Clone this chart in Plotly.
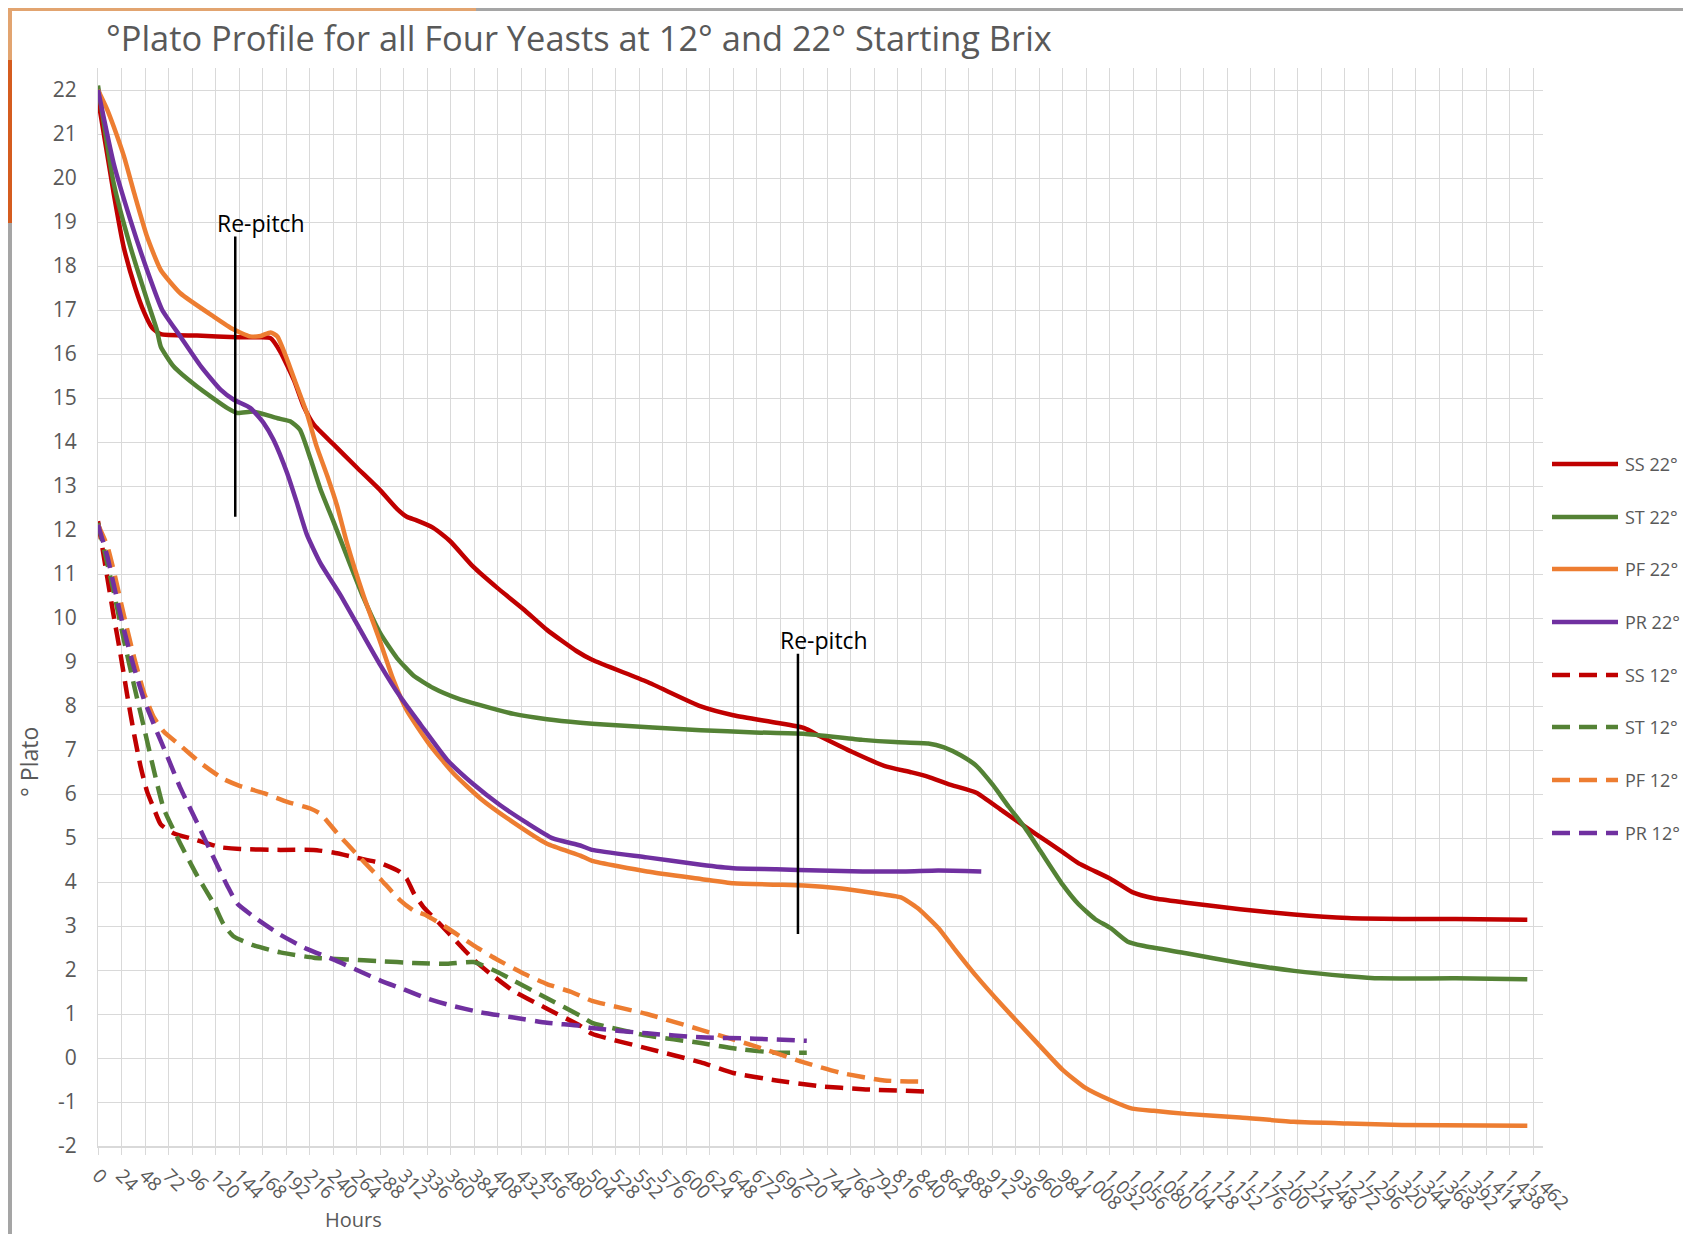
import plotly.graph_objects as go

# x tick labels (hours), evenly spaced category-style ticks
tick_hours = list(range(0, 1393, 24)) + [1414, 1438, 1462]
tick_text = [f"{h:,}" for h in tick_hours]
y_ticks = list(range(-2, 23))

# 22 degree starting gravity
ss22_h = [0, 16, 26, 38, 47, 55, 64, 101, 142, 165, 176, 186, 200, 210, 220, 240, 264, 288, 305, 315,
          325, 342, 359, 383, 407, 434, 458, 488, 504, 560, 615, 648, 692, 720, 736, 769, 802, 830, 847,
          868, 896, 923, 956, 984, 1000, 1033, 1055, 1077, 1110, 1165, 1220, 1275, 1330, 1385, 1458]
ss22_v = [21.8, 19.65, 18.45, 17.5, 16.95, 16.6, 16.45, 16.42, 16.38, 16.38, 16.36, 16.05, 15.4, 14.8,
          14.4, 13.95, 13.42, 12.9, 12.48, 12.3, 12.22, 12.05, 11.75, 11.16, 10.69, 10.2, 9.73, 9.25,
          9.05, 8.55, 7.99, 7.79, 7.62, 7.5, 7.32, 6.96, 6.64, 6.49, 6.39, 6.22, 6.03, 5.61, 5.1, 4.68,
          4.43, 4.07, 3.77, 3.63, 3.53, 3.38, 3.26, 3.18, 3.16, 3.16, 3.14]

st22_h = [0, 16, 33, 50, 60, 64, 77, 101, 132, 142, 159, 183, 196, 206, 217, 227, 240, 254, 271, 288,
          305, 322, 342, 366, 390, 424, 458, 492, 516, 615, 670, 720, 780, 813, 847, 863, 880, 896, 913,
          929, 946, 962, 984, 1000, 1017, 1033, 1050, 1066, 1110, 1165, 1220, 1275, 1308, 1385, 1458]
st22_v = [22.1, 19.88, 18.44, 17.23, 16.55, 16.17, 15.72, 15.26, 14.77, 14.66, 14.69, 14.54, 14.47,
          14.28, 13.6, 12.92, 12.2, 11.4, 10.45, 9.65, 9.09, 8.69, 8.41, 8.18, 8.02, 7.82, 7.7, 7.62,
          7.58, 7.45, 7.4, 7.37, 7.23, 7.18, 7.15, 7.06, 6.88, 6.64, 6.2, 5.71, 5.22, 4.68, 3.94, 3.5,
          3.16, 2.95, 2.65, 2.55, 2.38, 2.16, 1.98, 1.86, 1.81, 1.81, 1.79]

pf22_h = [0, 9.5, 16, 26.5, 37, 50, 64, 84, 118, 138, 155, 166, 176, 183, 193, 203, 213, 223, 234,
          244, 254, 271, 288, 301, 315, 339, 363, 390, 424, 458, 492, 504, 560, 615, 648, 692, 720, 758,
          791, 819, 836, 857, 874, 896, 923, 956, 984, 1006, 1033, 1055, 1077, 1110, 1165, 1220, 1275,
          1330, 1458]
pf22_v = [22.0, 21.55, 21.17, 20.49, 19.65, 18.67, 17.91, 17.38, 16.85, 16.56, 16.4, 16.41, 16.49,
          16.4, 15.87, 15.26, 14.66, 13.9, 13.22, 12.54, 11.7, 10.5, 9.45, 8.61, 7.9, 7.1, 6.46, 5.9,
          5.35, 4.87, 4.6, 4.48, 4.24, 4.07, 3.97, 3.94, 3.92, 3.85, 3.75, 3.65, 3.41, 2.96, 2.47, 1.86,
          1.18, 0.39, -0.27, -0.66, -0.96, -1.15, -1.2, -1.27, -1.35, -1.45, -1.49, -1.52, -1.54]

pr22_h = [0, 16, 33, 50, 65.5, 84, 105, 125, 138.5, 155.5, 169, 179, 193, 203, 213, 227, 247, 267.5,
          288, 308, 329, 356, 383, 410, 437, 464, 492, 504, 560, 615, 648, 692, 736, 780, 824, 857, 901]
pr22_v = [22.0, 20.33, 19.05, 17.91, 17.0, 16.4, 15.72, 15.19, 14.96, 14.77, 14.43, 14.05, 13.29,
          12.61, 11.9, 11.24, 10.53, 9.73, 8.93, 8.22, 7.58, 6.78, 6.22, 5.75, 5.35, 4.99, 4.83, 4.73,
          4.56, 4.39, 4.31, 4.29, 4.26, 4.24, 4.24, 4.26, 4.24]

# 12 degree starting gravity
ss12_h = [0, 9.5, 16, 23, 30, 37, 43.5, 50, 57, 64, 77, 101, 125, 145, 186, 220, 240, 264, 288, 308,
          315, 322, 332, 349, 366, 383, 400, 424, 458, 492, 504, 560, 615, 648, 692, 736, 780, 844]
ss12_v = [12.2, 10.92, 10.05, 9.17, 8.22, 7.34, 6.62, 6.06, 5.67, 5.31, 5.11, 4.95, 4.79, 4.75, 4.73,
          4.73, 4.67, 4.55, 4.43, 4.23, 4.07, 3.75, 3.43, 3.04, 2.64, 2.24, 1.92, 1.52, 1.12, 0.73,
          0.55, 0.22, -0.1, -0.34, -0.51, -0.64, -0.71, -0.76]

st12_h = [0, 9.5, 16, 26.5, 37, 47, 57, 67, 84, 101, 118, 128, 138.5, 159, 186, 220, 254, 288, 322,
          356, 383, 407, 424, 458, 492, 504, 560, 615, 648, 692, 723]
st12_v = [12.16, 11.24, 10.6, 9.49, 8.45, 7.5, 6.54, 5.67, 4.87, 4.15, 3.51, 3.04, 2.76, 2.56, 2.4,
          2.28, 2.24, 2.2, 2.16, 2.14, 2.18, 1.96, 1.76, 1.36, 0.96, 0.8, 0.51, 0.34, 0.22, 0.12, 0.12]

pf12_h = [0, 9.5, 16, 26.5, 37, 47, 57, 67, 84, 105, 128, 145, 169, 193, 216.5, 227, 244, 264, 288,
          308, 322, 335, 356, 383, 407, 434, 458, 483, 504, 560, 615, 670, 720, 758, 802, 844]
pf12_v = [12.12, 11.64, 11.08, 10.05, 9.09, 8.29, 7.74, 7.42, 7.1, 6.7, 6.34, 6.18, 6.02, 5.82, 5.67,
          5.55, 5.11, 4.63, 4.07, 3.59, 3.35, 3.24, 2.96, 2.56, 2.24, 1.92, 1.68, 1.5, 1.3, 1.0, 0.64,
          0.27, -0.1, -0.34, -0.51, -0.54]

pr12_h = [0, 9.5, 16, 26.5, 37, 47, 57, 70.6, 84, 101, 118, 132, 142, 162, 186, 213, 240, 264, 288,
          312, 335, 359, 390, 424, 458, 492, 504, 560, 615, 670, 723]
pr12_v = [12.12, 11.4, 10.76, 9.73, 8.85, 8.14, 7.58, 6.86, 6.14, 5.35, 4.55, 3.91, 3.51, 3.16, 2.8,
          2.48, 2.24, 2.0, 1.76, 1.56, 1.36, 1.2, 1.04, 0.92, 0.8, 0.73, 0.68, 0.56, 0.47, 0.44, 0.39]

# re-pitch markers: hour, bottom and top of the vertical line
repitch_hours = [140, 714]
repitch_low = [12.3, 2.82]
repitch_high = [18.67, 9.19]

RED, GREEN, ORANGE, PURPLE = "#C00000", "#548235", "#ED7D31", "#7030A0"
GRID = "#D9D9D9"
TEXT = "#595959"
FONT = "Open Sans"
DASH = "18px,9px"

series = [
    ("SS 22°", ss22_h, ss22_v, RED, "solid"),
    ("ST 22°", st22_h, st22_v, GREEN, "solid"),
    ("PF 22°", pf22_h, pf22_v, ORANGE, "solid"),
    ("PR 22°", pr22_h, pr22_v, PURPLE, "solid"),
    ("SS 12°", ss12_h, ss12_v, RED, DASH),
    ("ST 12°", st12_h, st12_v, GREEN, DASH),
    ("PF 12°", pf12_h, pf12_v, ORANGE, DASH),
    ("PR 12°", pr12_h, pr12_v, PURPLE, DASH),
]

# page offset (body margin) and figure size
OFF = 8
W, H = 1691 - 2 * OFF, 1242 - 2 * OFF
# plot area in page pixels
L, R, T, B = 98, 1543, 68, 1146


def px_x(px):
    return (px - L) / (R - L)


def px_y(py):
    return (B - py) / (B - T)


fig = go.Figure()

# draw 12 degree series first so 22 degree lines sit on top
for name, hrs, vals, color, dash in series[4:] + series[:4]:
    fig.add_trace(go.Scatter(
        x=hrs, y=vals, mode="lines", name=name,
        line=dict(color=color, width=4.5, dash=dash, shape="spline", smoothing=0.5),
        showlegend=False,
    ))

for h, lo, hi in zip(repitch_hours, repitch_low, repitch_high):
    fig.add_trace(go.Scatter(
        x=[h, h], y=[lo, hi], mode="lines",
        line=dict(color="black", width=2.5), showlegend=False, hoverinfo="skip",
    ))

shapes = []
annotations = []


def rect(x0, y0, x1, y1, color):
    shapes.append(dict(type="rect", xref="paper", yref="paper",
                       x0=px_x(x0), x1=px_x(x1), y0=px_y(y1), y1=px_y(y0),
                       fillcolor=color, line=dict(width=0), layer="above"))


# slide frame (clipped to what fits in the figure)
rect(OFF, OFF, 476, OFF + 3, "#E2A470")
rect(476, OFF, W + OFF, OFF + 3, "#A5A5A5")
rect(OFF, OFF, OFF + 4, 60, "#E2A470")
rect(OFF, 60, OFF + 4, 223, "#D55C1F")
rect(OFF, 223, OFF + 4, H + OFF, "#A5A5A5")

# custom legend
legend_y = [464, 517, 569, 622, 675, 727, 780, 833]
for (name, _, _, color, dash), ly in zip(series, legend_y):
    shapes.append(dict(type="line", xref="paper", yref="paper",
                       x0=px_x(1552), x1=px_x(1618), y0=px_y(ly), y1=px_y(ly),
                       line=dict(color=color, width=4.5, dash=dash)))
    annotations.append(dict(text=name, xref="paper", yref="paper", x=px_x(1623), y=px_y(ly),
                            xanchor="left", yanchor="middle", showarrow=False,
                            font=dict(family=FONT, size=18, color=TEXT)))

for h, hi in zip(repitch_hours, repitch_high):
    annotations.append(dict(text="Re-pitch", x=h, y=hi, xref="x", yref="y",
                            xanchor="left", yanchor="bottom", xshift=-20, yshift=-4,
                            showarrow=False, font=dict(family=FONT, size=23, color="black")))

annotations.append(dict(text="°Plato Profile for all Four Yeasts at 12° and 22° Starting Brix",
                        xref="paper", yref="paper", x=px_x(104), y=px_y(37),
                        xanchor="left", yanchor="middle", showarrow=False,
                        font=dict(family=FONT, size=34.4, color=TEXT)))
annotations.append(dict(text="Hours", xref="paper", yref="paper", x=px_x(353), y=px_y(1219),
                        xanchor="center", yanchor="middle", showarrow=False,
                        font=dict(family=FONT, size=20, color=TEXT)))
annotations.append(dict(text="° Plato", xref="paper", yref="paper", x=px_x(29), y=px_y(762),
                        xanchor="center", yanchor="middle", textangle=-90, showarrow=False,
                        font=dict(family=FONT, size=23, color=TEXT)))

fig.update_layout(
    width=W, height=H,
    margin=dict(l=L - OFF, r=W + OFF - R, t=T - OFF, b=H + OFF - B),
    paper_bgcolor="white", plot_bgcolor="white",
    showlegend=False,
    shapes=shapes,
    annotations=annotations,
    xaxis=dict(
        range=[0, 1474],
        tickvals=[24 * i for i in range(len(tick_text))],
        ticktext=tick_text,
        tickangle=45,
        showgrid=True, gridcolor=GRID, gridwidth=1,
        ticks="outside", ticklen=7, tickcolor=GRID, tickwidth=1,
        showline=True, linecolor=GRID, linewidth=2,
        zeroline=False,
        ticklabelstandoff=2,
        tickfont=dict(family=FONT, size=19, color=TEXT),
    ),
    yaxis=dict(
        range=[-2, 22.5],
        tickvals=y_ticks,
        ticktext=[str(v) for v in y_ticks],
        showgrid=True, gridcolor=GRID, gridwidth=1,
        showline=True, linecolor=GRID, linewidth=1,
        zeroline=False, ticks="",
        ticklabelstandoff=16,
        tickfont=dict(family=FONT, size=21, color=TEXT),
    ),
)

fig.write_html("out.html")
